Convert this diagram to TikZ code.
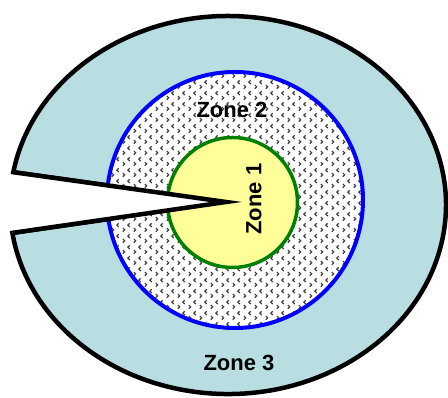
\documentclass[tikz,border=0pt]{standalone}
\usepackage{fontspec}
\setmainfont{Liberation Sans}
\usetikzlibrary{patterns}
\definecolor{zonethree}{RGB}{184,222,225}
\definecolor{zoneone}{RGB}{255,255,153}
\definecolor{ringgreen}{RGB}{0,128,0}
\pgfdeclarepatternformonly{chevrons}{\pgfqpoint{0pt}{0pt}}{\pgfqpoint{11pt}{11pt}}{\pgfqpoint{11pt}{11pt}}{%
  \pgfsetlinewidth{1.3pt}%
  \pgfpathmoveto{\pgfqpoint{2pt}{5.5pt}}%
  \pgfpathlineto{\pgfqpoint{4pt}{3.5pt}}%
  \pgfpathlineto{\pgfqpoint{2pt}{1.5pt}}%
  \pgfusepath{stroke}%
  \pgfpathmoveto{\pgfqpoint{9.5pt}{10.5pt}}%
  \pgfpathlineto{\pgfqpoint{7.5pt}{8.5pt}}%
  \pgfpathlineto{\pgfqpoint{9.5pt}{6.5pt}}%
  \pgfusepath{stroke}%
}
\tikzset{zonelabel/.style={font=\fontsize{22}{26}\selectfont\bfseries, inner sep=0pt}}
\begin{document}
\begin{tikzpicture}[x=1pt,y=1pt]
\useasboundingbox (0,0) rectangle (448,398);
\coordinate (notchtop) at (13.3,225.8);
\coordinate (notchbot) at (12.4,165.1);
\coordinate (tip) at (226,196);
% zone 3
\draw[line width=4.5pt, line join=miter, fill=zonethree] (notchtop) arc[start angle=170, end angle=-171.5, x radius=218, y radius=189] -- (tip) -- cycle;
% zone 2
\fill[white] (235,198) circle (128);
\fill[pattern=chevrons, pattern color=black!75] (235,198) circle (128);
\draw[blue, line width=4pt] (235,198) circle (128);
% zone 1
\draw[ringgreen, line width=3.5pt, fill=zoneone] (232.5,195.5) circle (65);
% notch
\fill[white] (notchtop) -- (tip) -- (notchbot) -- cycle;
\draw[line width=4.5pt, line join=miter] (notchtop) -- (tip) -- (notchbot);
\node[zonelabel] (zone2) at (232,288) {Zone 2};
\node[zonelabel, rotate=90] (zone1) at (254,199) {Zone 1};
\node[zonelabel] (zone3) at (239,35) {Zone 3};
\end{tikzpicture}
\end{document}
